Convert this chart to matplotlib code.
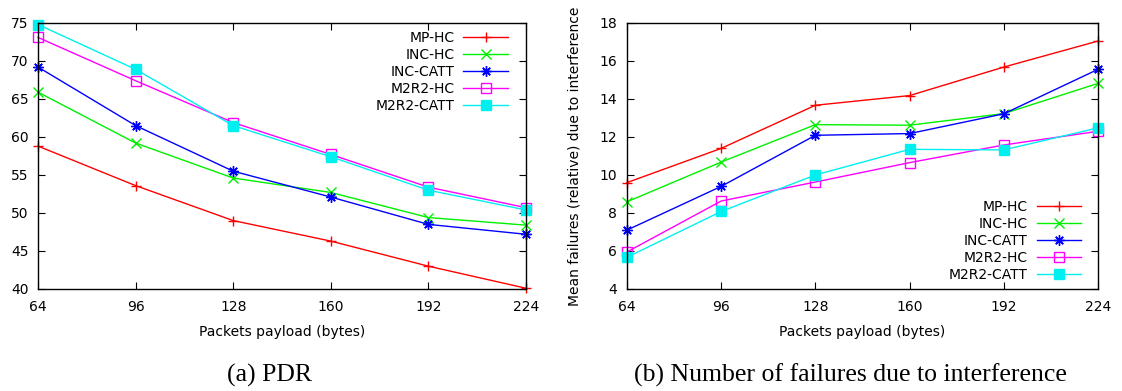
import numpy as np
import matplotlib
matplotlib.use('Agg')
import matplotlib.pyplot as plt

# Dados
payload = [64, 96, 128, 160, 192, 224]
series = ['MP-HC', 'INC-HC', 'INC-CATT', 'M2R2-HC', 'M2R2-CATT']

pdr_mp_hc = [58.8, 53.6, 49.0, 46.3, 43.0, 40.1]
pdr_inc_hc = [65.9, 59.2, 54.6, 52.7, 49.4, 48.4]
pdr_inc_catt = [69.2, 61.5, 55.5, 52.1, 48.5, 47.2]
pdr_m2r2_hc = [73.1, 67.4, 61.9, 57.7, 53.4, 50.7]
pdr_m2r2_catt = [74.8, 68.9, 61.5, 57.4, 53.0, 50.4]

fail_mp_hc = [9.6, 11.4, 13.67, 14.18, 15.68, 17.05]
fail_inc_hc = [8.59, 10.68, 12.65, 12.62, 13.23, 14.82]
fail_inc_catt = [7.1, 9.4, 12.09, 12.18, 13.22, 15.56]
fail_m2r2_hc = [5.95, 8.63, 9.63, 10.65, 11.58, 12.3]
fail_m2r2_catt = [5.67, 8.08, 10.0, 11.35, 11.32, 12.48]

cores = ['#ff0000', '#00f000', '#0000ff', '#ff00ff', '#00f0f0']
marcadores = ['+', 'x', (8, 2, 0), 's', 's']
preenchido = [True, True, True, False, True]

plt.rcParams['font.family'] = ['DejaVu Sans']

fig = plt.figure(figsize=(11.22, 3.91), dpi=100)
ax1 = fig.add_axes([0.0339, 0.2609, 0.4349, 0.6803])
ax2 = fig.add_axes([0.5588, 0.2609, 0.4198, 0.6803])


def desenhar(ax, dados):
    for nome, y, c, m, f in zip(series, dados, cores, marcadores, preenchido):
        ax.plot(payload, y, color=c, marker=m, markersize=7.5 if m != 's' else 7,
                markeredgewidth=1.0, linewidth=1.0, label=nome,
                markerfacecolor=c if f else 'none', markeredgecolor=c,
                clip_on=False)
    ax.set_xlim(64, 224)
    ax.set_xticks(payload)
    ax.tick_params(direction='in', top=True, right=True, length=5, width=0.8,
                   labelsize=10)
    ax.tick_params(axis='x', pad=8)
    ax.tick_params(axis='y', pad=7)
    for s in ax.spines.values():
        s.set_linewidth(1.0)
    ax.set_xlabel('Packets payload (bytes)', fontsize=10, labelpad=8)


estilo_legenda = dict(frameon=False, markerfirst=False, fontsize=10,
                      handlelength=3.2, labelspacing=0.22, handletextpad=0.65,
                      borderpad=0, borderaxespad=0)

desenhar(ax1, [pdr_mp_hc, pdr_inc_hc, pdr_inc_catt, pdr_m2r2_hc, pdr_m2r2_catt])
ax1.set_ylim(40, 75)
ax1.set_yticks(np.arange(40, 76, 5))
ax1.legend(loc='upper right', bbox_to_anchor=(0.963, 0.97), **estilo_legenda)

desenhar(ax2, [fail_mp_hc, fail_inc_hc, fail_inc_catt, fail_m2r2_hc, fail_m2r2_catt])
ax2.set_ylim(4, 18)
ax2.set_yticks(np.arange(4, 19, 2))
ax2.set_ylabel('Mean failures (relative) due to interference', fontsize=10, labelpad=13)
ax2.legend(loc='lower right', bbox_to_anchor=(0.964, 0.026), **estilo_legenda)

# Legendas das subfiguras
fig.text(0.240, 0.023, '(a) PDR', family='Liberation Serif', fontsize=18.5,
         ha='center', va='baseline')
fig.text(0.758, 0.023, '(b) Number of failures due to interference',
         family='Liberation Serif', fontsize=18.5, ha='center', va='baseline')

fig.savefig('out.png', dpi=100)
